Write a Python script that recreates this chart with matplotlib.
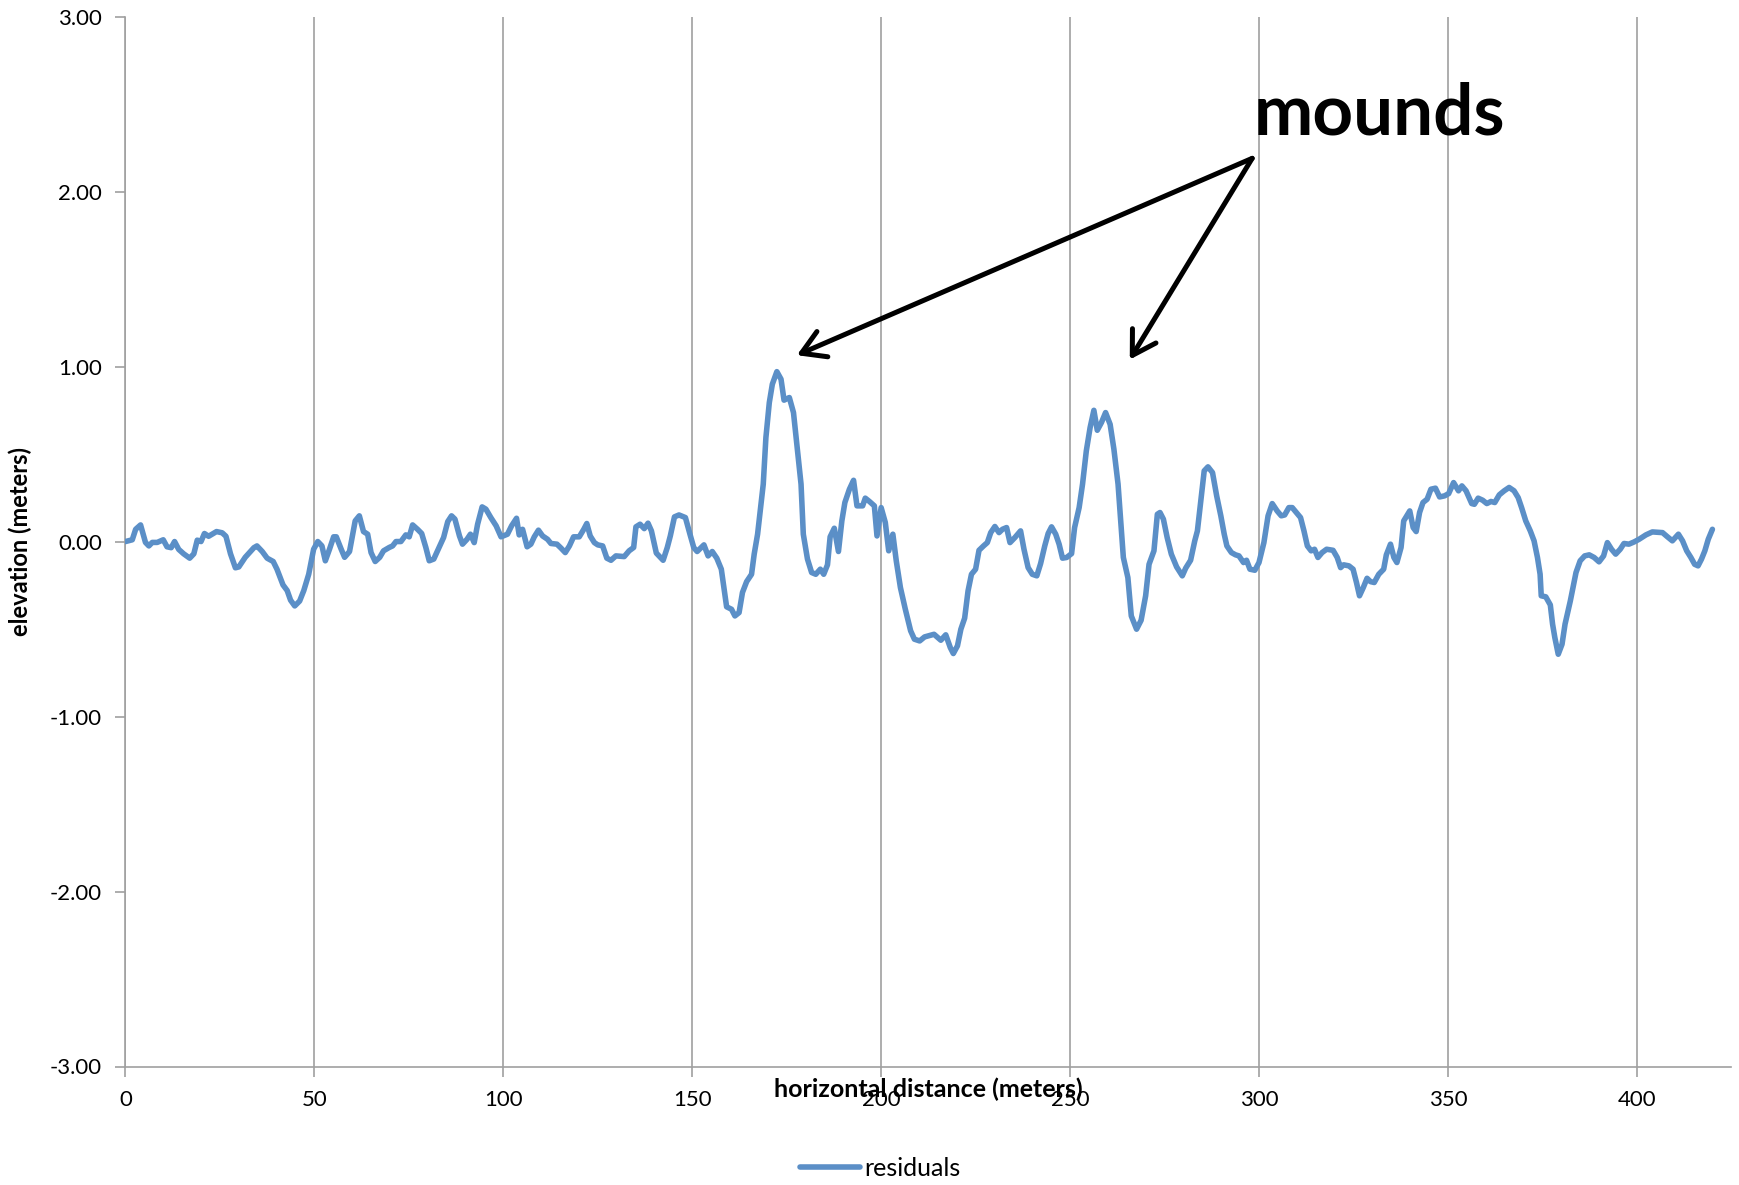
"""
Residual elevation profile with the two mounds marked.
"""

import matplotlib
matplotlib.use("Agg")
import matplotlib.pyplot as plt

distance_m = [
    0, 1.8, 2.7, 4.0, 5.3, 6.2, 7.1, 8.4, 10, 11, 12.1, 13, 14.1, 15.4, 17, 18.1, 19, 20,
    20.9, 22, 24.1, 25.6, 26.6, 27.8, 29.1, 30, 31.7, 34, 34.8, 36.2, 37.5, 39.1, 40.1,
    41.7, 42.8, 43.7, 44.8, 46.1, 47.2, 48.5, 49.8, 50.9, 52, 52.9, 54, 55.1, 55.8, 57.1,
    58, 59.3, 60.8, 61.9, 63, 64.1, 65, 66.1, 67.3, 68.3, 69.8, 70.7, 71.6, 72.9, 74.2,
    75.1, 76, 77.3, 78.4, 79.5, 80.4, 81.6, 82.6, 84.2, 85.3, 86.3, 87.2, 88.4, 89.2,
    90.4, 91.3, 92.3, 93.2, 94.4, 95.4, 96.7, 98.1, 99.4, 101.1, 102.2, 103.5, 104.2,
    105.1, 106.3, 107.3, 108.2, 109.3, 110.4, 111.7, 112.6, 114.2, 115.3, 116.4, 117.5,
    118.6, 120.1, 121.3, 122.1, 123, 124.1, 125, 126.3, 127.4, 128.5, 129.8, 132, 133.3,
    134.5, 135.1, 136.2, 137.3, 138.3, 139.2, 140.5, 142.3, 143.4, 144.2, 145.3, 146.5,
    148.2, 149.4, 150.4, 151.3, 153.1, 154.2, 155.3, 156.5, 157.7, 159.1, 160.4, 161.3,
    162.4, 163.3, 164.4, 165.7, 166.4, 167.3, 168.1, 168.8, 169.5, 170.4, 171.2, 172.4,
    173.5, 174.3, 175.7, 176.8, 177.9, 178.8, 179.4, 180.5, 181.6, 182.7, 183.9, 184.8,
    185.8, 186.5, 187.6, 188.7, 189.6, 190.4, 191.6, 192.7, 193.6, 195.1, 195.8, 196.9,
    198.2, 198.9, 200, 201.1, 202, 203.1, 204, 205.1, 206.4, 207.8, 208.8, 210.2, 211.5,
    214, 215.8, 217.1, 218.3, 219.1, 220.2, 221.1, 222.1, 223, 223.9, 225, 225.9, 227.1,
    228.1, 229, 230.1, 231.2, 232.1, 233.2, 234.1, 235.4, 236.9, 237.8, 238.9, 240,
    241.2, 242.2, 243.3, 244.2, 245.1, 246.2, 247.1, 248, 249.1, 250.4, 251.2, 252.4,
    253.3, 254.3, 255.3, 256.3, 257.2, 258.3, 259.4, 260.6, 261.6, 262.7, 263.4, 264.1,
    265.3, 266.2, 267.6, 268.8, 270, 270.9, 272.2, 273.1, 273.8, 274.7, 275.7, 276.8,
    278.2, 279.7, 280.6, 281.9, 283, 283.7, 284.6, 285.5, 286.5, 287.7, 288.8, 289.9,
    290.8, 291.5, 292.7, 293.8, 294.7, 295.9, 296.7, 297.6, 298.9, 300, 301.3, 302.4,
    303.5, 304.8, 305.9, 306.8, 307.9, 308.8, 310.1, 311, 311.9, 312.8, 313.8, 314.7,
    315.6, 316.7, 317.9, 319.6, 320.7, 321.6, 322.4, 323.8, 324.9, 325.8, 326.6, 327.6,
    328.6, 329.5, 330.5, 331.7, 333, 333.7, 334.8, 335.7, 336.5, 337.6, 338.3, 339.9,
    340.8, 341.6, 342.5, 343.4, 344.5, 345.5, 346.7, 347.8, 349.1, 350.2, 351.5, 352.8,
    353.7, 354.8, 356.3, 357, 358, 359.2, 360.3, 361.4, 362.4, 363.6, 364.9, 366.2,
    367.5, 368.6, 369.5, 370.6, 371.8, 372.8, 373.7, 374.4, 374.7, 375.9, 377.1, 377.7,
    378.3, 379.2, 380.2, 381, 382.4, 383.9, 385, 386.2, 387.4, 388.7, 390, 391.2, 392.2,
    393.3, 394.4, 395.6, 396.6, 397.9, 399.3, 400.6, 402.4, 404.1, 406.8, 408.1, 409.4,
    411, 412.1, 413.2, 414.3, 415.3, 416.2, 417.1, 418, 418.9, 420,
]

residuals = [
    0, 0.01, 0.07, 0.095, -0.005, -0.025, -0.005, -0.005, 0.01, -0.03, -0.035, 0.0,
    -0.045, -0.07, -0.095, -0.07, 0.008, 0, 0.046, 0.03, 0.057, 0.05, 0.03, -0.07, -0.15,
    -0.145, -0.09, -0.035, -0.025, -0.057, -0.095, -0.114, -0.158, -0.248, -0.28, -0.335,
    -0.368, -0.34, -0.28, -0.187, -0.044, 0, -0.025, -0.11, -0.044, 0.027, 0.027, -0.044,
    -0.09, -0.057, 0.118, 0.147, 0.057, 0.042, -0.063, -0.114, -0.09, -0.053, -0.034,
    -0.025, 0, 0, 0.038, 0.027, 0.095, 0.07, 0.046, -0.034, -0.11, -0.1, -0.053, 0.023,
    0.114, 0.147, 0.128, 0.032, -0.015, 0.013, 0.042, -0.006, 0.099, 0.198, 0.185, 0.137,
    0.09, 0.027, 0.042, 0.09, 0.133, 0.038, 0.07, -0.03, -0.015, 0.027, 0.065, 0.032,
    0.013, -0.011, -0.015, -0.038, -0.063, -0.025, 0.027, 0.027, 0.07, 0.103, 0.032,
    -0.006, -0.019, -0.025, -0.095, -0.107, -0.082, -0.086, -0.053, -0.034, 0.084, 0.099,
    0.074, 0.105, 0.061, -0.066, -0.107, -0.034, 0.032, 0.141, 0.152, 0.137, 0.042,
    -0.034, -0.057, -0.019, -0.082, -0.057, -0.095, -0.158, -0.373, -0.387, -0.425,
    -0.406, -0.291, -0.229, -0.187, -0.072, 0.042, 0.194, 0.328, 0.594, 0.794, 0.899,
    0.971, 0.928, 0.808, 0.823, 0.737, 0.509, 0.328, 0.042, -0.1, -0.177, -0.187, -0.158,
    -0.187, -0.133, 0.027, 0.076, -0.057, 0.118, 0.223, 0.299, 0.35, 0.204, 0.204, 0.248,
    0.229, 0.204, 0.032, 0.194, 0.109, -0.053, 0.042, -0.11, -0.263, -0.387, -0.51,
    -0.558, -0.568, -0.545, -0.53, -0.564, -0.533, -0.606, -0.64, -0.596, -0.501, -0.438,
    -0.282, -0.187, -0.158, -0.05, -0.025, -0.006, 0.051, 0.086, 0.051, 0.07, 0.08,
    -0.006, 0.023, 0.061, -0.044, -0.149, -0.187, -0.196, -0.126, -0.025, 0.046, 0.084,
    0.042, -0.015, -0.095, -0.091, -0.069, 0.08, 0.194, 0.328, 0.518, 0.651, 0.75, 0.636,
    0.68, 0.737, 0.67, 0.528, 0.328, 0.118, -0.091, -0.206, -0.425, -0.501, -0.45, -0.31,
    -0.13, -0.053, 0.156, 0.166, 0.128, 0.023, -0.072, -0.145, -0.196, -0.152, -0.107,
    0.004, 0.061, 0.232, 0.404, 0.427, 0.394, 0.261, 0.147, 0.042, -0.025, -0.063,
    -0.076, -0.082, -0.12, -0.107, -0.158, -0.164, -0.12, -0.006, 0.147, 0.217, 0.175,
    0.147, 0.152, 0.194, 0.194, 0.16, 0.137, 0.061, -0.025, -0.053, -0.044, -0.091,
    -0.063, -0.044, -0.05, -0.091, -0.149, -0.133, -0.139, -0.158, -0.234, -0.31, -0.263,
    -0.21, -0.229, -0.234, -0.187, -0.158, -0.076, -0.015, -0.091, -0.12, -0.034, 0.118,
    0.175, 0.08, 0.057, 0.166, 0.223, 0.242, 0.299, 0.305, 0.255, 0.261, 0.274, 0.337,
    0.29, 0.318, 0.29, 0.217, 0.213, 0.248, 0.236, 0.217, 0.229, 0.223, 0.267, 0.29,
    0.309, 0.29, 0.251, 0.194, 0.118, 0.061, 0.004, -0.091, -0.187, -0.31, -0.316,
    -0.362, -0.472, -0.549, -0.644, -0.587, -0.472, -0.339, -0.177, -0.11, -0.082,
    -0.076, -0.091, -0.116, -0.082, -0.006, -0.044, -0.072, -0.044, -0.011, -0.015,
    -0.002, 0.013, 0.038, 0.055, 0.051, 0.027, 0.004, 0.042, 0.004, -0.053, -0.091,
    -0.13, -0.139, -0.101, -0.053, 0.013, 0.07,
]

x_ticks = [0, 50, 100, 150, 200, 250, 300, 350, 400]
y_ticks = [-3, -2, -1, 0, 1, 2, 3]

# arrow tails / tips, in data units
label_xy = (298.2, 2.19)
mound_tips = [(177.7, 1.065), (265.8, 1.04)]

LINE = "#5b8fc7"
GRID = "#a0a0a0"


def plot_profile():
    plt.rcParams["font.family"] = ["Lato", "DejaVu Sans"]
    fig = plt.figure(figsize=(17.4, 11.85), dpi=100)
    ax = fig.add_axes([0.0721, 0.100, 0.9229, 0.886])

    ax.plot(distance_m, residuals, color=LINE, lw=4.0, label="residuals",
            solid_joinstyle="round", solid_capstyle="round", zorder=3)

    ax.set_xlim(0, 425)
    ax.set_ylim(-3, 3)
    ax.set_xticks(x_ticks)
    ax.set_yticks(y_ticks)
    ax.set_yticklabels([f"{v:.2f}" for v in y_ticks])
    ax.grid(axis="x", color=GRID, lw=1.2)
    ax.set_axisbelow(True)

    for side in ("top", "right"):
        ax.spines[side].set_visible(False)
    for side in ("left", "bottom"):
        ax.spines[side].set_color(GRID)
        ax.spines[side].set_linewidth(1.2)
    ax.tick_params(axis="both", direction="out", length=7, width=1.2,
                   color=GRID, labelsize=16, pad=10)

    # label sits over the tick labels, like the original
    ax.set_xlabel("horizontal distance (meters)", fontsize=18, fontweight="bold")
    ax.xaxis.label.set_va("center")
    ax.xaxis.set_label_coords(0.5, -0.0215)
    ax.set_ylabel("elevation (meters)", fontsize=17, fontweight="bold")
    ax.yaxis.set_label_coords(-0.058, 0.5)

    ax.text(label_xy[0] + 0.3, label_xy[1] + 0.065, "mounds", fontsize=51,
            fontweight="bold", ha="left", va="bottom")
    for tip in mound_tips:
        ax.annotate("", xy=tip, xytext=label_xy,
                    arrowprops=dict(arrowstyle="->,head_length=0.75,head_width=0.45",
                                    color="black", lw=3.6, mutation_scale=22,
                                    shrinkA=0, shrinkB=0))

    fig.legend(loc="center", bbox_to_anchor=(0.506, 0.0143), frameon=False,
               fontsize=18, handlelength=2.4, handletextpad=0.15)

    fig.savefig("out.png", dpi=100)
    print("Saved plot as out.png")


def main():
    plot_profile()


if __name__ == "__main__":
    main()
